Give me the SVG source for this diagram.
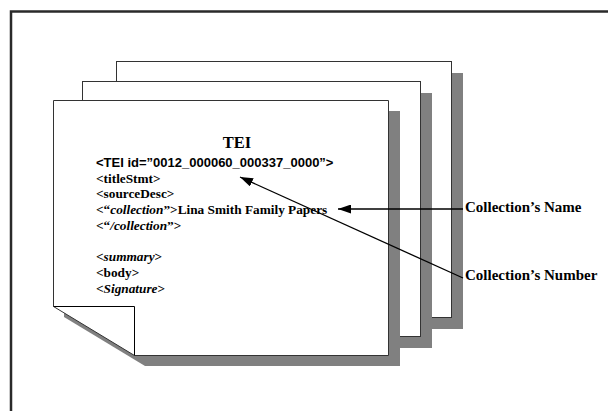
<svg xmlns="http://www.w3.org/2000/svg" width="608" height="411" viewBox="0 0 608 411">
<defs>
<style>
.page{fill:#fff;stroke:#333;stroke-width:1}
.shadow{fill:#808080}
.mono{font-family:"Liberation Sans",Arial,sans-serif;font-weight:bold;font-size:13px}
.ser{font-family:"Liberation Serif","Times New Roman",serif;font-weight:bold;font-size:13.3px}
.lbl{font-family:"Liberation Serif","Times New Roman",serif;font-weight:bold;font-size:15px}
.conn{stroke:#000;stroke-width:1.3;fill:none}
</style>
<marker id="ah" viewBox="0 0 13 9" refX="13" refY="4.5" markerWidth="13" markerHeight="9" markerUnits="userSpaceOnUse" orient="auto">
<path d="M0,0 L13,4.5 L0,9 Z" fill="#000"/>
</marker>
</defs>
<rect x="0" y="0" width="608" height="411" fill="#fff"/>
<rect x="11" y="11.5" width="640" height="440" fill="none" stroke="#2a2a2a" stroke-width="2.5"/>
<g id="page3">
<rect class="shadow" x="128" y="73" width="335" height="256"/>
<rect class="page" x="116.5" y="61.5" width="335" height="256"/>
</g>
<g id="page2">
<rect class="shadow" x="94" y="93" width="338" height="255"/>
<rect class="page" x="82.5" y="81.5" width="338" height="255"/>
</g>
<g id="page1">
<rect x="53" y="306" width="93" height="64" fill="#fff"/>
<polygon class="shadow" points="64,111 400,111 400,366 145,366 64,317"/>
<polygon class="page" points="53.5,100.5 388.5,100.5 388.5,355.5 134.5,355.5 53.5,306.5"/>
<polyline points="53.5,306.5 134.5,306.5 134.5,355.5" fill="none" stroke="#000" stroke-width="1"/>
<text class="ser" x="237" y="148" text-anchor="middle" style="font-size:16.5px">TEI</text>
<text class="mono" x="96" y="166.5">&lt;TEI id=”0012_000060_000337_0000”&gt;</text>
<text class="ser" x="96" y="182.5">&lt;titleStmt&gt;</text>
<text class="ser" x="96" y="198">&lt;sourceDesc&gt;</text>
<text class="ser" x="96" y="214">&lt;“<tspan font-style="italic">collection</tspan>”&gt;Lina Smith Family Papers</text>
<text class="ser" x="96" y="230">&lt;“<tspan font-style="italic">/collection</tspan>”&gt;</text>
<text class="ser" x="96" y="261">&lt;<tspan font-style="italic">summary</tspan>&gt;</text>
<text class="ser" x="96" y="277">&lt;body&gt;</text>
<text class="ser" x="96" y="293">&lt;<tspan font-style="italic">Signature</tspan>&gt;</text>
</g>
<g id="label-name">
<text class="lbl" x="465" y="212">Collection’s Name</text>
</g>
<g id="label-number">
<text class="lbl" x="465" y="280">Collection’s Number</text>
</g>
<g id="connectors">
<line class="conn" x1="463" y1="209" x2="338" y2="209" marker-end="url(#ah)"/>
<line class="conn" x1="463" y1="278" x2="240" y2="177" marker-end="url(#ah)"/>
</g>
</svg>
